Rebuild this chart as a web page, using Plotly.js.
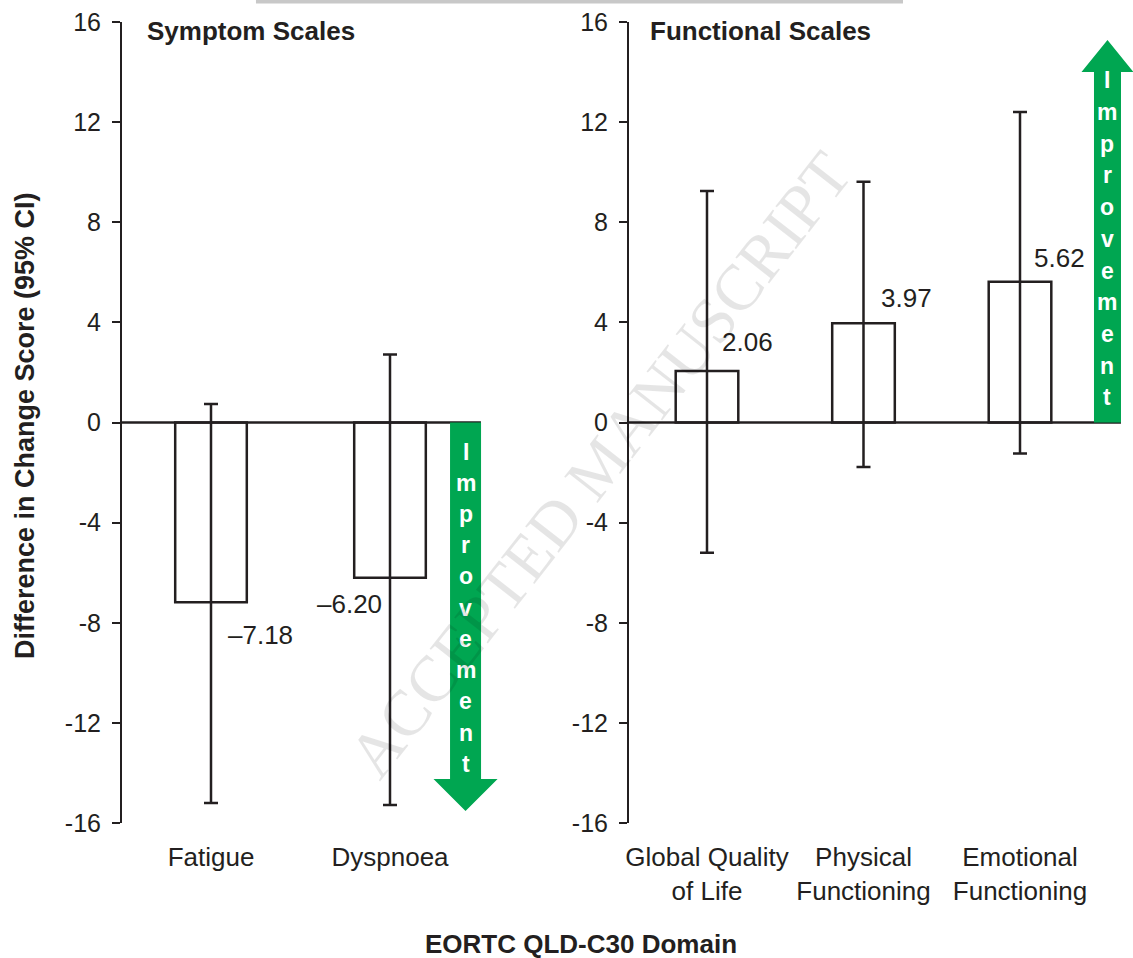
<!DOCTYPE html>
<html>
<head>
<meta charset="utf-8">
<script src="https://cdn.plot.ly/plotly-3.0.1.min.js"></script>
<style>
  html, body { margin: 0; padding: 0; background: #fff; }
  #chart { width: 1133px; height: 958px; }
</style>
</head>
<body>
<div id="chart"></div>
<script>
// EORTC QLQ-C30 domains: difference in change score with 95% CI
const symptomDomains = ['Fatigue', 'Dyspnoea'];
const symptomDiff = [-7.18, -6.20];
const symptomCiLow = [-15.2, -15.28];
const symptomCiHigh = [0.74, 2.72];

const functionalDomains = ['Global Quality<br>of Life', 'Physical<br>Functioning', 'Emotional<br>Functioning'];
const functionalDiff = [2.06, 3.97, 5.62];
const functionalCiLow = [-5.2, -1.78, -1.24];
const functionalCiHigh = [9.25, 9.62, 12.4];

const yTickVals = [-16, -12, -8, -4, 0, 4, 8, 12, 16];
const yTickText = ['-16', '-12', '-8', '-4', '0', '4', '8', '12', '16'];

const panelTitles = ['Symptom Scales', 'Functional Scales'];
const arrowWord = 'Improvement';

const INK = '#231f20';
const GREEN = '#00a651';
const FONT = '"Liberation Sans", Arial, Helvetica, sans-serif';

const idx = arr => arr.map((_, i) => i);
const fmt = v => v.toFixed(2).replace('-', '\u2013');

function barTrace(x, y, lo, hi, xa, ya) {
  return {
    type: 'bar',
    x: x, y: y,
    xaxis: xa, yaxis: ya,
    width: 0.4,
    marker: { color: '#ffffff', line: { color: INK, width: 2.5 } },
    error_y: {
      type: 'data', symmetric: false,
      array: y.map((v, i) => hi[i] - v),
      arrayminus: y.map((v, i) => v - lo[i]),
      color: INK, thickness: 2.5, width: 7
    },
    hoverinfo: 'y'
  };
}

const symX = idx(symptomDomains);
const funX = idx(functionalDomains);

const traces = [
  barTrace(symX, symptomDiff, symptomCiLow, symptomCiHigh, 'x', 'y'),
  barTrace(funX, functionalDiff, functionalCiLow, functionalCiHigh, 'x2', 'y2')
];

// "Improvement" arrows (down for symptom scales, up for functional scales)
function arrowPath(cx, shaftHalf, headHalf, yBase, yHeadStart, yTip) {
  return 'M' + (cx - shaftHalf) + ',' + yBase +
    ' L' + (cx + shaftHalf) + ',' + yBase +
    ' L' + (cx + shaftHalf) + ',' + yHeadStart +
    ' L' + (cx + headHalf) + ',' + yHeadStart +
    ' L' + cx + ',' + yTip +
    ' L' + (cx - headHalf) + ',' + yHeadStart +
    ' L' + (cx - shaftHalf) + ',' + yHeadStart + ' Z';
}

const downArrow = { cx: 1.422, shaft: 0.0866, head: 0.179, start: 0, headStart: -14.24, tip: -15.52, letter0: -1.16, step: -1.248 };
const upArrow = { cx: 2.559, shaft: 0.0863, head: 0.166, start: 0, headStart: 14.0, tip: 15.28, letter0: 13.68, step: -1.268 };

const shapes = [
  { type: 'line', xref: 'x', yref: 'y', x0: -0.4972, x1: 1.508, y0: 0, y1: 0, line: { color: INK, width: 2.5 } },
  { type: 'line', xref: 'x2', yref: 'y2', x0: -0.4984, x1: 2.645, y0: 0, y1: 0, line: { color: INK, width: 2.5 } },
  { type: 'path', xref: 'x', yref: 'y', path: arrowPath(downArrow.cx, downArrow.shaft, downArrow.head, downArrow.start, downArrow.headStart, downArrow.tip), fillcolor: GREEN, line: { width: 0 } },
  { type: 'path', xref: 'x2', yref: 'y2', path: arrowPath(upArrow.cx, upArrow.shaft, upArrow.head, upArrow.start, upArrow.headStart, upArrow.tip), fillcolor: GREEN, line: { width: 0 } },
  // thin grey rule across the top of the page
  { type: 'rect', xref: 'paper', yref: 'paper', x0: 0.1325, x1: 0.7725, y0: 1.0231, y1: 1.03, fillcolor: '#c8c8c8', line: { width: 0 } }
];

const annotations = [];

// arrow lettering
[[downArrow, 'x', 'y'], [upArrow, 'x2', 'y2']].forEach(([a, xr, yr]) => {
  arrowWord.split('').forEach((ch, i) => {
    annotations.push({
      xref: xr, yref: yr, x: a.cx, y: a.letter0 + i * a.step,
      text: '<b>' + ch + '</b>', showarrow: false,
      xanchor: 'center', yanchor: 'middle',
      font: { family: FONT, size: 23, color: '#ffffff' }
    });
  });
});

// value labels
const symLabelShift = [[15, -33, 'left'], [-6, -26, 'right']];
symptomDiff.forEach((v, i) => {
  annotations.push({
    xref: 'x', yref: 'y', x: symX[i], y: v, text: fmt(v), showarrow: false,
    xanchor: symLabelShift[i][2], yanchor: 'middle',
    xshift: symLabelShift[i][0], yshift: symLabelShift[i][1],
    font: { family: FONT, size: 26, color: INK }
  });
});
const funLabelShift = [[13, 29], [16, 25], [12, 24]];
functionalDiff.forEach((v, i) => {
  annotations.push({
    xref: 'x2', yref: 'y2', x: funX[i], y: v, text: fmt(v), showarrow: false,
    xanchor: 'left', yanchor: 'middle',
    xshift: funLabelShift[i][0], yshift: funLabelShift[i][1],
    font: { family: FONT, size: 26, color: INK }
  });
});

// panel titles
annotations.push({
  xref: 'paper', yref: 'paper', x: 0.02275, y: 0.98876, text: '<b>' + panelTitles[0] + '</b>',
  showarrow: false, xanchor: 'left', yanchor: 'middle',
  font: { family: FONT, size: 26, color: INK }
});
annotations.push({
  xref: 'paper', yref: 'paper', x: 0.5203, y: 0.98876, text: '<b>' + panelTitles[1] + '</b>',
  showarrow: false, xanchor: 'left', yanchor: 'middle',
  font: { family: FONT, size: 26, color: INK }
});

// axis titles
annotations.push({
  xref: 'paper', yref: 'paper', x: 0.454, y: -0.151, text: '<b>EORTC QLD-C30 Domain</b>',
  showarrow: false, xanchor: 'center', yanchor: 'middle',
  font: { family: FONT, size: 26, color: INK }
});
annotations.push({
  xref: 'paper', yref: 'paper', x: -0.0959, y: 0.4956, text: '<b>Difference in Change Score (95% CI)</b>',
  textangle: -90, showarrow: false, xanchor: 'center', yanchor: 'middle',
  font: { family: FONT, size: 27, color: INK }
});

// manuscript watermark
annotations.push({
  xref: 'paper', yref: 'paper', x: 0.472, y: 0.4475, text: 'ACCEPTED MANUSCRIPT',
  textangle: -52, showarrow: false, xanchor: 'center', yanchor: 'middle',
  font: { family: '"Liberation Serif", "Times New Roman", serif', size: 65, color: 'rgba(0,0,0,0.1)' }
});

const yAxisBase = {
  range: [-16, 16], tickvals: yTickVals, ticktext: yTickText,
  ticks: 'outside', ticklen: 8, tickwidth: 2, tickcolor: INK,
  showline: true, linewidth: 2, linecolor: INK,
  showgrid: false, zeroline: false, ticklabelstandoff: 6,
  tickfont: { family: FONT, size: 25, color: INK }, fixedrange: true
};
const xAxisBase = {
  showgrid: false, zeroline: false, showline: false, ticks: '',
  ticklabelstandoff: 16,
  tickfont: { family: FONT, size: 26, color: INK }, fixedrange: true
};

const layout = {
  width: 1133, height: 958,
  margin: { l: 122, r: 0, t: 22, b: 135 },
  paper_bgcolor: '#ffffff', plot_bgcolor: '#ffffff',
  showlegend: false,
  font: { family: FONT, color: INK },
  xaxis: Object.assign({}, xAxisBase, { domain: [0, 0.37389], range: [-0.4972, 1.6145], tickvals: symX, ticktext: symptomDomains, anchor: 'y' }),
  xaxis2: Object.assign({}, xAxisBase, { domain: [0.50148, 1], range: [-0.4984, 2.722], tickvals: funX, ticktext: functionalDomains, anchor: 'y2' }),
  yaxis: Object.assign({}, yAxisBase, { domain: [0, 1], anchor: 'x' }),
  yaxis2: Object.assign({}, yAxisBase, { domain: [0, 1], anchor: 'x2' }),
  shapes: shapes,
  annotations: annotations
};

Plotly.newPlot('chart', traces, layout, { displayModeBar: false, staticPlot: true });
</script>
</body>
</html>
